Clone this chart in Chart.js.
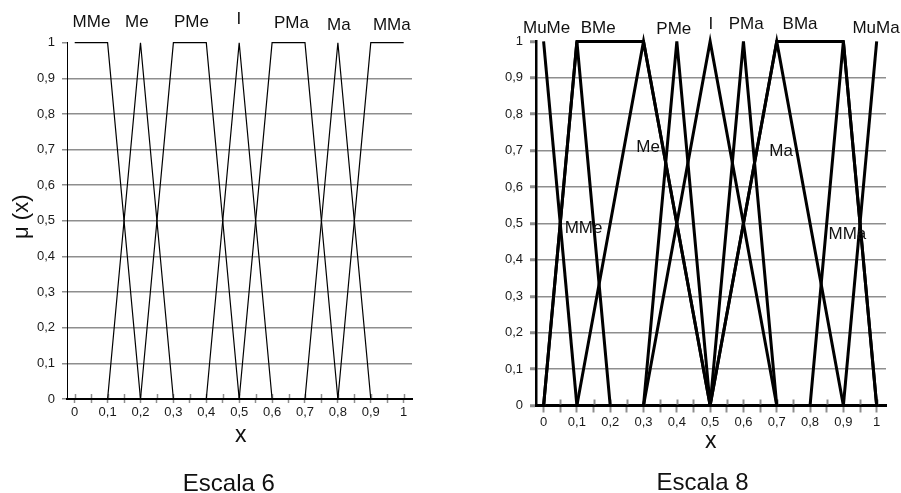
<!DOCTYPE html>
<html>
<head>
<meta charset="utf-8">
<script src="https://cdn.jsdelivr.net/npm/chart.js@4.4.0/dist/chart.umd.min.js"></script>
<style>
  html, body { margin: 0; padding: 0; background: #fff; }
  #wrap { position: relative; width: 901px; height: 493px; overflow: hidden; }
  #c6 { position: absolute; left: 0; top: 0; }
  #c8 { position: absolute; left: 450px; top: 0; }
</style>
</head>
<body>
<div id="wrap">
  <canvas id="c6" width="450" height="493"></canvas>
  <canvas id="c8" width="451" height="493"></canvas>
</div>
<script>
'use strict';

// ticks (x has a small tick every 0.05, labels only every 0.1)
let xTicks = [0, 0.05, 0.1, 0.15, 0.2, 0.25, 0.3, 0.35, 0.4, 0.45, 0.5, 0.55, 0.6, 0.65, 0.7, 0.75, 0.8, 0.85, 0.9, 0.95, 1];
let xTickLabels = ['0', '', '0,1', '', '0,2', '', '0,3', '', '0,4', '', '0,5', '', '0,6', '', '0,7', '', '0,8', '', '0,9', '', '1'];
let yTicks = [0, 0.1, 0.2, 0.3, 0.4, 0.5, 0.6, 0.7, 0.8, 0.9, 1];
let yTickLabels = ['0', '0,1', '0,2', '0,3', '0,4', '0,5', '0,6', '0,7', '0,8', '0,9', '1'];

// Escala 6
let esc6Names = ['MMe', 'Me', 'PMe', 'I', 'PMa', 'Ma', 'MMa'];
let esc6X = [
  [0, 0.1, 0.2],
  [0.1, 0.2, 0.3],
  [0.2, 0.3, 0.4, 0.5],
  [0.4, 0.5, 0.6],
  [0.5, 0.6, 0.7, 0.8],
  [0.7, 0.8, 0.9],
  [0.8, 0.9, 1]
];
let esc6Y = [
  [1, 1, 0],
  [0, 1, 0],
  [0, 1, 1, 0],
  [0, 1, 0],
  [0, 1, 1, 0],
  [0, 1, 0],
  [0, 1, 1]
];
// where each name is written (in data units)
let esc6LabelX = [0.051, 0.189, 0.355, 0.499, 0.659, 0.803, 0.964];
let esc6LabelY = [1.058, 1.058, 1.058, 1.067, 1.055, 1.048, 1.049];

// Escala 8
let esc8Names = ['MuMe', 'MMe', 'BMe', 'Me', 'PMe', 'I', 'PMa', 'Ma', 'BMa', 'MMa', 'MuMa'];
let esc8X = [
  [0, 0.1],
  [0, 0.1, 0.2],
  [0, 0.1, 0.3, 0.5],
  [0.1, 0.3, 0.5],
  [0.3, 0.4, 0.5],
  [0.3, 0.5, 0.7],
  [0.5, 0.6, 0.7],
  [0.5, 0.7, 0.9],
  [0.5, 0.7, 0.9, 1],
  [0.8, 0.9, 1],
  [0.9, 1]
];
let esc8Y = [
  [1, 0],
  [0, 1, 0],
  [0, 1, 1, 0],
  [0, 1, 0],
  [0, 1, 0],
  [0, 1, 0],
  [0, 1, 0],
  [0, 1, 0],
  [0, 1, 1, 0],
  [0, 1, 0],
  [0, 1]
];
let esc8LabelX = [0.009, 0.12, 0.164, 0.314, 0.391, 0.502, 0.608, 0.713, 0.770, 0.912, 0.998];
let esc8LabelY = [1.037, 0.486, 1.037, 0.709, 1.032, 1.047, 1.047, 0.698, 1.047, 0.471, 1.037];

Chart.defaults.font.family = "'Liberation Sans', Arial, sans-serif";
Chart.defaults.color = '#1a1a1a';

const gridGray = '#8e8e8e';

function fmtY(v) {
  let i = yTicks.indexOf(v);
  return i >= 0 ? yTickLabels[i] : '';
}

function fmtX(v) {
  let i = xTicks.indexOf(v);
  return i >= 0 ? xTickLabels[i] : '';
}

// draws the upper half of the x ticks, the curve names and the titles
const decorations = {
  id: 'decorations',
  beforeDatasetsDraw(chart, args, o) {
    let ctx = chart.ctx;
    let xs = chart.scales.x;
    let bottom = chart.chartArea.bottom;
    ctx.save();
    ctx.strokeStyle = gridGray;
    ctx.lineWidth = o.tickWidth;
    xs.ticks.forEach(t => {
      let px = Math.round(xs.getPixelForValue(t.value)) + 0.5;
      ctx.beginPath();
      ctx.moveTo(px, bottom - o.tickUp);
      ctx.lineTo(px, bottom - 1);
      ctx.stroke();
    });
    ctx.restore();
  },
  afterDraw(chart, args, o) {
    let ctx = chart.ctx;
    let xs = chart.scales.x;
    let ys = chart.scales.y;
    ctx.save();
    ctx.fillStyle = '#111';
    ctx.font = "17px 'Liberation Sans', Arial, sans-serif";
    ctx.textAlign = 'center';
    ctx.textBaseline = 'middle';
    for (let i = 0; i < o.names.length; i++) {
      ctx.fillText(o.names[i], xs.getPixelForValue(o.labelX[i]), ys.getPixelForValue(o.labelY[i]));
    }
    ctx.textBaseline = 'alphabetic';
    ctx.font = "23px 'Liberation Sans', Arial, sans-serif";
    ctx.fillText('x', o.xTitle[0], o.xTitle[1]);
    ctx.font = "24px 'Liberation Sans', Arial, sans-serif";
    ctx.fillText(o.caption, o.captionPos[0], o.captionPos[1]);
    if (o.yTitle) {
      ctx.font = "22px 'Liberation Sans', Arial, sans-serif";
      ctx.translate(o.yTitlePos[0], o.yTitlePos[1]);
      ctx.rotate(-Math.PI / 2);
      ctx.textBaseline = 'middle';
      ctx.fillText(o.yTitle, 0, 0);
    }
    ctx.restore();
  }
};

function makeChart(id, s) {
  let datasets = [];
  for (let i = 0; i < s.names.length; i++) {
    let pts = [];
    for (let j = 0; j < s.xs[i].length; j++) {
      pts.push({ x: s.xs[i][j], y: s.ys[i][j] });
    }
    datasets.push({
      label: s.names[i],
      data: pts,
      showLine: true,
      borderColor: '#000',
      borderWidth: s.lineWidth,
      pointRadius: 0,
      fill: false,
      clip: false
    });
  }

  return new Chart(document.getElementById(id), {
    type: 'scatter',
    data: { datasets: datasets },
    plugins: [decorations],
    options: {
      responsive: false,
      animation: false,
      events: [],
      layout: { padding: { left: 0, right: s.padRight, top: s.padTop, bottom: 0 } },
      plugins: {
        legend: { display: false },
        tooltip: { enabled: false },
        decorations: {
          names: s.names,
          labelX: s.labelX,
          labelY: s.labelY,
          tickUp: s.tickUp,
          tickWidth: s.tickWidth,
          xTitle: s.xTitle,
          caption: s.caption,
          captionPos: s.captionPos,
          yTitle: s.yTitle,
          yTitlePos: s.yTitlePos
        }
      },
      scales: {
        x: {
          type: 'linear',
          min: s.xMin,
          max: s.xMax,
          afterBuildTicks: sc => { sc.ticks = xTicks.map(v => ({ value: v })); },
          afterFit: sc => { sc.height = s.xHeight; },
          ticks: {
            autoSkip: false,
            maxRotation: 0,
            padding: s.xPad,
            font: { size: 13 },
            color: '#1a1a1a',
            callback: v => fmtX(v)
          },
          grid: {
            drawOnChartArea: false,
            tickLength: s.tickDown,
            tickColor: gridGray,
            tickWidth: s.tickWidth,
            color: gridGray
          },
          border: { color: '#000', width: s.xAxisWidth }
        },
        y: {
          type: 'linear',
          min: 0,
          max: 1,
          afterBuildTicks: sc => { sc.ticks = yTicks.map(v => ({ value: v })); },
          afterFit: sc => { sc.width = s.yWidth; },
          ticks: {
            padding: 7,
            font: { size: 13 },
            color: '#1a1a1a',
            callback: v => fmtY(v)
          },
          grid: {
            tickLength: s.yTickLen,
            tickColor: gridGray,
            tickWidth: s.yTickWidth,
            lineWidth: 1.5,
            color: c => (c.tick && (c.tick.value === 1 || c.tick.value === 0)) ? 'rgba(0,0,0,0)' : gridGray
          },
          border: { color: '#000', width: s.yAxisWidth }
        }
      }
    }
  });
}

makeChart('c6', {
  names: esc6Names, xs: esc6X, ys: esc6Y, labelX: esc6LabelX, labelY: esc6LabelY,
  lineWidth: 1.2,
  xMin: -0.0234, xMax: 1.0253,
  padRight: 38, padTop: 42.7, xHeight: 94, yWidth: 67,
  xPad: 2, tickDown: 4, tickUp: 5, tickWidth: 1.5,
  yTickLen: 5, yTickWidth: 1.5,
  xAxisWidth: 2, yAxisWidth: 1,
  xTitle: [240.7, 442], caption: 'Escala 6', captionPos: [228.8, 491],
  yTitle: 'μ (x)', yTitlePos: [21.7, 216.7]
});

makeChart('c8', {
  names: esc8Names, xs: esc8X, ys: esc8Y, labelX: esc8LabelX, labelY: esc8LabelY,
  lineWidth: 3,
  xMin: -0.0228, xMax: 1.028,
  padRight: 15, padTop: 41.4, xHeight: 87.5, yWidth: 86,
  xPad: 2, tickDown: 7, tickUp: 6, tickWidth: 2,
  yTickLen: 6, yTickWidth: 3,
  xAxisWidth: 3, yAxisWidth: 2.5,
  xTitle: [260.7, 447.5], caption: 'Escala 8', captionPos: [252.5, 490],
  yTitle: null, yTitlePos: null
});
</script>
</body>
</html>
